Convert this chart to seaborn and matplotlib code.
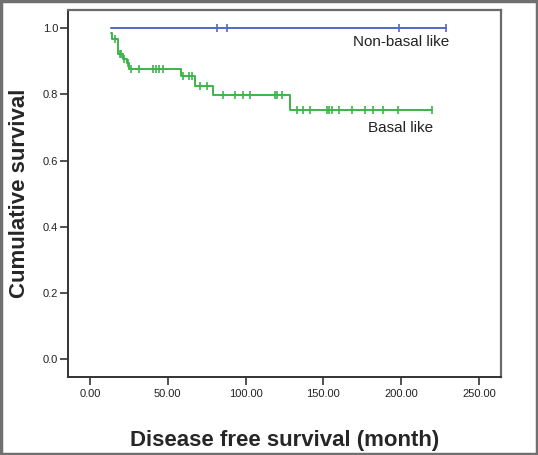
import matplotlib
matplotlib.use("Agg")
import matplotlib.pyplot as plt
import matplotlib.patches as patches
import seaborn as sns
import pandas as pd

# === Data ===
# Basal like: step curve (time of change, survival level after it)
basal_time = [13.3, 14.2, 18.0, 21.0, 23.6, 25.3, 58.3, 67.5, 78.8, 128.3, 220.0]
basal_surv = [0.984, 0.968, 0.922, 0.907, 0.896, 0.876, 0.855, 0.826, 0.798, 0.752, 0.752]
# censored points
basal_cens_time = [16.1, 19.0, 20.2, 21.9, 24.6,
                   26.3, 31.7, 40.3, 42.4, 44.5, 46.7,
                   60.0, 63.5, 65.8,
                   70.7, 75.4,
                   85.7, 93.2, 98.5, 102.8, 118.9, 120.0, 123.2,
                   132.8, 136.7, 141.4, 152.1, 153.6, 155.3, 160.2, 168.6,
                   176.7, 182.1, 188.1, 198.1, 220.0]
basal_cens_surv = [0.968, 0.922, 0.922, 0.907, 0.896,
                   0.876, 0.876, 0.876, 0.876, 0.876, 0.876,
                   0.855, 0.855, 0.855,
                   0.826, 0.826,
                   0.798, 0.798, 0.798, 0.798, 0.798, 0.798, 0.798,
                   0.752, 0.752, 0.752, 0.752, 0.752, 0.752, 0.752, 0.752,
                   0.752, 0.752, 0.752, 0.752, 0.752]

nonbasal_time = [13.3, 228.8]
nonbasal_surv = [1.0, 1.0]
nonbasal_cens_time = [81.8, 87.8, 198.8, 228.8]
nonbasal_cens_surv = [1.0, 1.0, 1.0, 1.0]

x_ticks = [0, 50, 100, 150, 200, 250]
y_ticks = [0.0, 0.2, 0.4, 0.6, 0.8, 1.0]

blue = "#5468c6"
green = "#3cb44b"

sns.set_style("white")
plt.rcParams['font.family'] = ['Liberation Sans', 'DejaVu Sans']

fig = plt.figure(figsize=(5.38, 4.55), dpi=100)
ax = fig.add_axes([0.1264, 0.1721, 0.8048, 0.807])

basal = pd.DataFrame({'t': basal_time, 's': basal_surv})
nonbasal = pd.DataFrame({'t': nonbasal_time, 's': nonbasal_surv})

sns.lineplot(data=nonbasal, x='t', y='s', color=blue, lw=1.4,
             drawstyle='steps-post', estimator=None, ax=ax)
sns.lineplot(data=basal, x='t', y='s', color=green, lw=1.4,
             drawstyle='steps-post', estimator=None, ax=ax)

sns.scatterplot(x=nonbasal_cens_time, y=nonbasal_cens_surv, marker='|', s=30,
                color=blue, linewidth=1.2, ax=ax)
sns.scatterplot(x=basal_cens_time, y=basal_cens_surv, marker='|', s=30,
                color=green, linewidth=1.2, ax=ax)

ax.text(230.7, 0.957, "Non-basal like", ha='right', va='center', fontsize=11, color='#222222')
ax.text(220.2, 0.697, "Basal like", ha='right', va='center', fontsize=11, color='#222222')

ax.set_xlim(-14.1, 264.1)
ax.set_ylim(-0.052, 1.056)
ax.set_xticks(x_ticks)
ax.set_xticklabels([f"{v:.2f}" for v in x_ticks])
ax.set_yticks(y_ticks)
ax.set_yticklabels([f"{v:.1f}" for v in y_ticks])
ax.tick_params(axis='both', direction='out', length=6, width=1.2, color='#333333',
               labelsize=8, labelcolor='#222222', pad=1, bottom=True, left=True)
ax.tick_params(axis='x', pad=3)

for side in ['left', 'bottom']:
    ax.spines[side].set_color('#333333')
    ax.spines[side].set_linewidth(1.4)
for side in ['top', 'right']:
    ax.spines[side].set_color('#6a6a6a')
    ax.spines[side].set_linewidth(1.6)

ax.set_xlabel("Disease free survival (month)", fontsize=16, fontweight='bold', labelpad=22)
ax.set_ylabel("Cumulative survival", fontsize=16, fontweight='bold', labelpad=9)

# outer frame around the whole picture
fig.patches.append(patches.Rectangle((0.002, 0.002), 0.996, 0.996, transform=fig.transFigure,
                                     fill=False, edgecolor='#707070', lw=2.5))

fig.savefig("out.png", dpi=100)
